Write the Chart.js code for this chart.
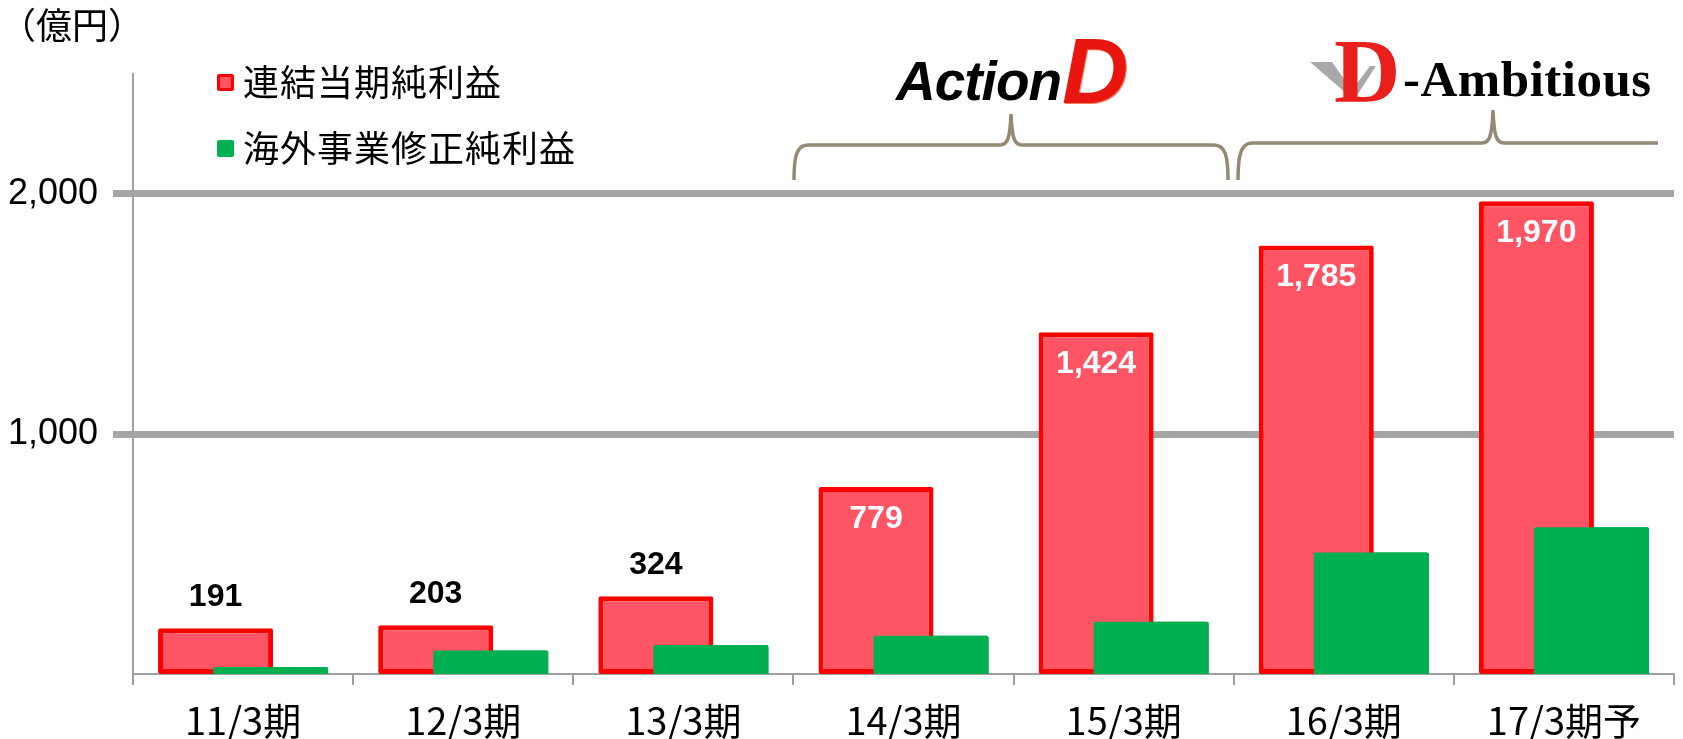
<!DOCTYPE html>
<html>
<head>
<meta charset="utf-8">
<script src="https://cdn.jsdelivr.net/npm/chart.js@4"></script>
<style>
	body { margin: 0; background: #fff; }
	#wrap { position: relative; width: 1683px; height: 739px; overflow: hidden; }
	#chart { position: absolute; left: 0; top: 0; }
	.txt { position: absolute; white-space: nowrap; line-height: 1; }
	.jp { font-family: "Noto Sans CJK JP", sans-serif; color: #000; }
	.sq { position: absolute; width: 17px; height: 17px; box-sizing: border-box; border-radius: 2px; }
	#unit { left: 0; top: 5px; font-size: 36px; }
	.legendText { left: 243px; font-size: 36px; letter-spacing: 1px; }
	#actionText { left: 896px; top: 49px; font: italic bold 55px "Liberation Sans", sans-serif; letter-spacing: -1px; color: #000; }
	#actionD { left: 1062px; top: 19px; font: italic bold 92px "Liberation Sans", sans-serif; color: #e8160f; text-shadow: 1px 1px 0 #ff7b5c; }
	#ambD { left: 1334px; top: 18px; font: bold 92px "Liberation Serif", serif; color: #e81f1a; }
	#ambText { left: 1403px; top: 50px; font: bold 51px "Liberation Serif", serif; color: #000; letter-spacing: 0.5px; }
	svg { position: absolute; left: 0; top: 0; }
</style>
</head>
<body>
<div id="wrap">
	<canvas id="chart" width="1683" height="739"></canvas>
	<svg width="1683" height="739">
		<path d="M1310 62 L1332 62 L1352 90 L1370 66 L1376 66 L1354 100 Z" fill="#a9a9a9"/>
		<path d="M794 180 C794 158, 796 145, 808 145 L1000 145 C1008 145, 1010 137, 1011 114 C1012 137, 1014 145, 1022 145 L1214 145 C1226 145, 1228 158, 1228 180" fill="none" stroke="#948a74" stroke-width="3.5"/>
		<path d="M1238 180 C1238 158, 1240 143, 1252 143 L1482 143 C1490 143, 1492 135, 1493 110 C1494 135, 1496 143, 1504 143 L1658 143" fill="none" stroke="#948a74" stroke-width="3.5"/>
	</svg>
	<div id="unit" class="txt jp">（億円）</div>
	<div id="actionText" class="txt">Action</div>
	<div id="actionD" class="txt">D</div>
	<div id="ambD" class="txt">D</div>
	<div id="ambText" class="txt">-Ambitious</div>
</div>
<script>
const labels = ['11/3期', '12/3期', '13/3期', '14/3期', '15/3期', '16/3期', '17/3期予'];
const netIncome = [191, 203, 324, 779, 1424, 1785, 1970];
const overseasIncome = [29, 98, 121, 159, 218, 506, 611];
const yTicks = [1000, 2000];
const seriesNames = ['連結当期純利益', '海外事業修正純利益'];

const RED_FILL = '#ff5464';
const RED_LINE = '#ff0000';
const GREEN = '#00b050';

// legend, drawn as html next to the chart
const wrap = document.getElementById('wrap');
const legendRows = [
	{ name: seriesNames[0], fill: RED_FILL, border: '3px solid ' + RED_LINE, y: 82 },
	{ name: seriesNames[1], fill: GREEN, border: 'none', y: 148 }
];
for (let i = 0; i < legendRows.length; i++) {
	let row = legendRows[i];
	let sq = document.createElement('div');
	sq.className = 'sq';
	sq.style.left = '217px';
	sq.style.top = (row.y - 8) + 'px';
	sq.style.background = row.fill;
	sq.style.border = row.border;
	wrap.appendChild(sq);

	let t = document.createElement('div');
	t.className = 'txt jp legendText';
	t.style.top = (row.y - 20) + 'px';
	t.textContent = row.name;
	wrap.appendChild(t);
}

// green bars sit in front of the red ones, then the value labels
const frontAndLabels = {
	id: 'frontAndLabels',
	afterDatasetsDraw(chart) {
		chart.getDatasetMeta(1).controller.draw();

		const ctx = chart.ctx;
		const meta = chart.getDatasetMeta(0);
		ctx.save();
		ctx.font = 'bold 32px "Liberation Sans", Arial, sans-serif';
		ctx.textAlign = 'center';
		ctx.textBaseline = 'middle';
		meta.data.forEach((bar, i) => {
			let v = netIncome[i];
			let txt = v.toLocaleString('en-US');
			if (v < 500) {
				ctx.fillStyle = '#000';
				ctx.fillText(txt, bar.x, bar.y - 31);
			} else {
				ctx.fillStyle = '#fff';
				ctx.fillText(txt, bar.x, bar.y + 32);
			}
		});
		ctx.restore();
	}
};

new Chart(document.getElementById('chart'), {
	type: 'bar',
	data: {
		labels: labels,
		datasets: [
			{
				label: seriesNames[0],
				data: netIncome,
				backgroundColor: RED_FILL,
				borderColor: RED_LINE,
				borderWidth: 5,
				borderSkipped: false,
				borderRadius: 2,
				categoryPercentage: 0.5,
				barPercentage: 2.09
			},
			{
				label: seriesNames[1],
				data: overseasIncome,
				backgroundColor: GREEN,
				borderWidth: 0,
				borderRadius: 2,
				categoryPercentage: 0.5,
				barPercentage: 2.09
			}
		]
	},
	options: {
		responsive: false,
		animation: false,
		layout: { padding: { top: 74, right: 9, left: 0, bottom: 0 } },
		plugins: {
			legend: { display: false },
			tooltip: { enabled: false }
		},
		scales: {
			x: {
				afterFit: (scale) => { scale.height = 65; },
				grid: {
					offset: true,
					drawOnChartArea: false,
					drawTicks: true,
					tickLength: 11,
					color: '#a0a0a0',
					lineWidth: 2
				},
				border: { color: '#a0a0a0', width: 2 },
				ticks: {
					color: '#000',
					padding: 13,
					font: { family: '"Noto Sans CJK JP", sans-serif', size: 38 }
				}
			},
			y: {
				min: 0,
				max: 2500,
				afterFit: (scale) => { scale.width = 133; },
				afterBuildTicks: (scale) => { scale.ticks = yTicks.map(v => ({ value: v })); },
				grid: {
					color: '#a6a6a6',
					lineWidth: 7,
					tickLength: 20
				},
				border: { color: '#a0a0a0', width: 2 },
				ticks: {
					color: '#000',
					padding: 15,
					font: { family: '"Liberation Sans", Arial, sans-serif', size: 36 },
					callback: (v) => v.toLocaleString('en-US')
				}
			}
		}
	},
	plugins: [frontAndLabels]
});
</script>
</body>
</html>
